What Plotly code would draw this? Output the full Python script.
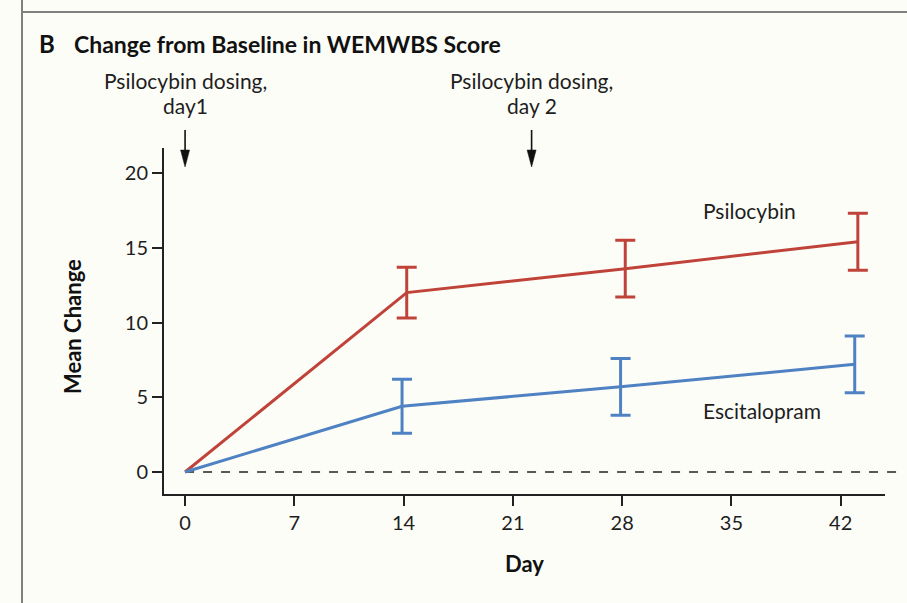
import plotly.graph_objects as go

# ---- data ----
psilo_days = [0, 14.2, 28.2, 43.1]
psilo_mean = [0, 12.0, 13.6, 15.4]
psilo_err = [0, 1.7, 1.9, 1.9]

escit_days = [0, 13.9, 27.9, 42.9]
escit_mean = [0, 4.4, 5.7, 7.2]
escit_err = [0, 1.8, 1.9, 1.9]

x_ticks = [0, 7, 14, 21, 28, 35, 42]
y_ticks = [0, 5, 10, 15, 20]
dosing_days = [0, 22.2]
dosing_line1 = ["Psilocybin dosing,", "Psilocybin dosing,"]
dosing_line2 = ["day1", "day 2"]

RED = "#c0433a"
BLUE = "#4f82c2"
BG = "#fdfdf8"
FONT = "Lato"
TXT = "#1e1e1e"

XR = [-1.35, 44.84]
YR = [-1.47, 21.67]
L, R, T, B = 164, 22, 148, 109
W, H = 907, 603
PW, PH = W - L - R, H - T - B


def px2paper_x(px):
    return (px - L) / PW


def py2paper_y(py):
    return (H - B - py) / PH


def day2paper(d):
    return (d - XR[0]) / (XR[1] - XR[0])


fig = go.Figure()

for days, mean, err, col in [(psilo_days, psilo_mean, psilo_err, RED),
                             (escit_days, escit_mean, escit_err, BLUE)]:
    fig.add_trace(go.Scatter(
        x=days, y=mean, mode="lines", line=dict(color=col, width=3),
        showlegend=False, cliponaxis=False))
    # error bars only where an error exists (baseline has none)
    fig.add_trace(go.Scatter(
        x=days[1:], y=mean[1:], mode="markers", marker=dict(size=1, color=col, opacity=0),
        error_y=dict(type="data", array=err[1:], visible=True, color=col, thickness=3, width=10),
        showlegend=False, cliponaxis=False))

# dashed zero line (extends slightly beyond axis end)
fig.add_shape(type="line", xref="paper", yref="y", x0=day2paper(0), x1=px2paper_x(905), y0=0, y1=0,
              line=dict(color="#222", width=1.5, dash="dash"), layer="below")

# frame lines
fig.add_shape(type="line", xref="paper", yref="paper", x0=px2paper_x(22), x1=px2paper_x(22),
              y0=py2paper_y(620), y1=py2paper_y(-10), line=dict(color="#808080", width=2))
fig.add_shape(type="line", xref="paper", yref="paper", x0=px2paper_x(22), x1=px2paper_x(920),
              y0=py2paper_y(12), y1=py2paper_y(12), line=dict(color="#808080", width=2))

annotations = []
# dosing labels and arrows
for d, l1, l2 in zip(dosing_days, dosing_line1, dosing_line2):
    annotations.append(dict(x=d, xref="x", y=py2paper_y(80), yref="paper", text=l1, showarrow=False,
                            xanchor="center", yanchor="middle",
                            font=dict(family=FONT, size=21, color=TXT)))
    annotations.append(dict(x=d, xref="x", y=py2paper_y(105), yref="paper", text=l2, showarrow=False,
                            xanchor="center", yanchor="middle",
                            font=dict(family=FONT, size=21, color=TXT)))
    xp = day2paper(d)
    dx = 4.5 / PW
    fig.add_shape(type="line", xref="paper", yref="paper", x0=xp, x1=xp,
                  y0=py2paper_y(130), y1=py2paper_y(152), line=dict(color="#111", width=1.6))
    fig.add_shape(type="path", xref="paper", yref="paper",
                  path=f"M {xp - dx},{py2paper_y(150)} L {xp + dx},{py2paper_y(150)} L {xp},{py2paper_y(167)} Z",
                  fillcolor="#111", line=dict(color="#111", width=0.5))

# series labels
annotations.append(dict(x=33.06, y=17.5, xref="x", yref="y", text="Psilocybin", showarrow=False,
                        xanchor="left", yanchor="middle", font=dict(family=FONT, size=21, color=TXT)))
annotations.append(dict(x=33.06, y=4.1, xref="x", yref="y", text="Escitalopram", showarrow=False,
                        xanchor="left", yanchor="middle", font=dict(family=FONT, size=21, color=TXT)))

# title
annotations.append(dict(x=px2paper_x(37), y=py2paper_y(44), xref="paper", yref="paper", text="<b>B</b>",
                        showarrow=False, xanchor="left", yanchor="middle",
                        font=dict(family=FONT, size=24, color="#111")))
annotations.append(dict(x=px2paper_x(72), y=py2paper_y(44), xref="paper", yref="paper",
                        text="<b>Change from Baseline in WEMWBS Score</b>", showarrow=False,
                        xanchor="left", yanchor="middle", font=dict(family=FONT, size=23, color="#111")))
# axis titles
annotations.append(dict(x=px2paper_x(72), y=py2paper_y(327), xref="paper", yref="paper",
                        text="<b>Mean Change</b>", textangle=-90, showarrow=False,
                        xanchor="center", yanchor="middle", font=dict(family=FONT, size=22, color="#111")))
annotations.append(dict(x=px2paper_x(524), y=py2paper_y(563), xref="paper", yref="paper",
                        text="<b>Day</b>", showarrow=False, xanchor="center", yanchor="middle",
                        font=dict(family=FONT, size=22, color="#111")))

fig.update_layout(
    width=W, height=H,
    margin=dict(l=L, r=R, t=T, b=B),
    paper_bgcolor=BG, plot_bgcolor=BG,
    annotations=annotations,
    font=dict(family=FONT, size=20, color=TXT),
)
fig.update_xaxes(range=XR, tickvals=x_ticks, ticktext=[str(t) for t in x_ticks],
                 showgrid=False, zeroline=False, showline=True, linecolor="#222", linewidth=2,
                 ticks="outside", ticklen=10, tickwidth=1.5, tickcolor="#222",
                 tickfont=dict(family=FONT, size=20, color=TXT))
fig.update_yaxes(range=YR, tickvals=y_ticks, ticktext=[str(t) for t in y_ticks],
                 showgrid=False, zeroline=False, showline=True, linecolor="#222", linewidth=2,
                 ticks="outside", ticklen=10, tickwidth=1.5, tickcolor="#222",
                 tickfont=dict(family=FONT, size=20, color=TXT))

fig.write_html("out.html")
